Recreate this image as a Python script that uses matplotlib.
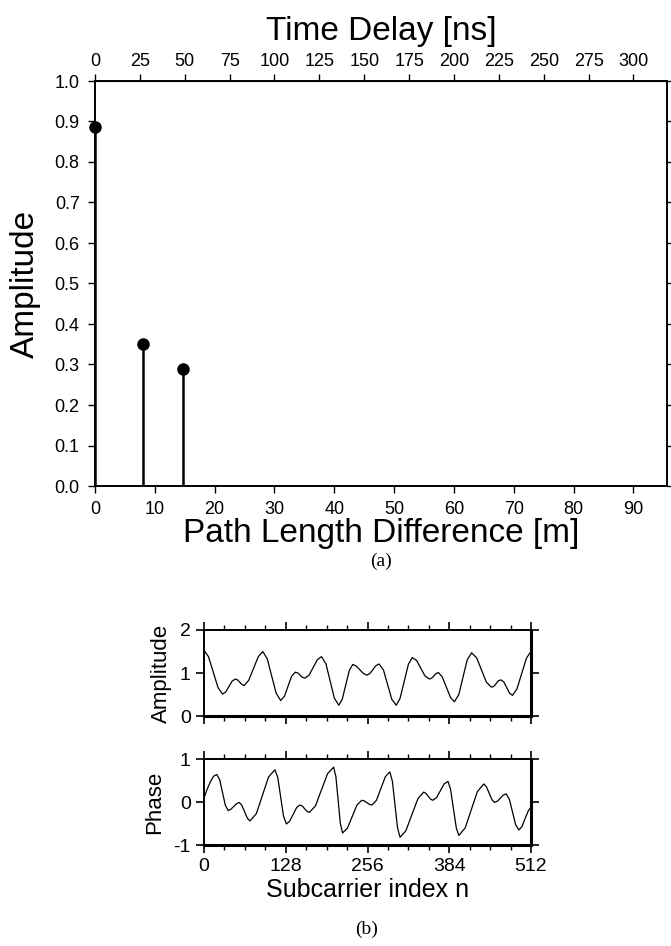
#!/usr/bin/env python3

import numpy as np
import matplotlib
matplotlib.use("Agg")
import matplotlib.pyplot as plt

plt.rcParams["font.family"] = ["Liberation Sans", "DejaVu Sans"]

# (a) impulse response
path_diff_m = [0.0, 8.0, 14.7]
path_amp = [0.886, 0.35, 0.29]
delay_ticks_ns = [0, 25, 50, 75, 100, 125, 150, 175, 200, 225, 250, 275, 300]

# (b) amplitude vs subcarrier
amp_n = [0, 7, 14.5, 22, 29, 34, 39, 44, 49, 52.5, 56, 59.5, 63, 70, 77.5,
         85, 92, 99, 106, 113, 120, 126, 131.5, 137, 143, 147, 150.5, 154,
         158, 164.5, 171, 177.5, 184, 191, 197.5, 204, 211, 216.5, 222,
         227.5, 233, 238.5, 244, 249.5, 255, 260, 264.5, 269, 274, 281,
         287.5, 294, 301, 307, 313.5, 320, 326, 333, 339.5, 346, 353, 356.5,
         360, 363.5, 367, 373, 379.5, 386, 392, 399, 405.5, 412, 419, 427,
         434.5, 442, 450, 454, 457.5, 461, 465, 469.5, 474, 478.5, 483, 490,
         497.5, 505, 512]
amp_val = [1.53, 1.38, 1.02, 0.66, 0.51, 0.56, 0.685, 0.81, 0.86, 0.84,
           0.785, 0.73, 0.71, 0.83, 1.105, 1.38, 1.50, 1.33, 0.93, 0.53, 0.36,
           0.46, 0.69, 0.92, 1.02, 1.00, 0.95, 0.90, 0.88, 0.95, 1.13, 1.31,
           1.38, 1.21, 0.815, 0.42, 0.25, 0.39, 0.725, 1.06, 1.20, 1.16,
           1.075, 0.99, 0.95, 0.99, 1.08, 1.17, 1.21, 1.07, 0.73, 0.39, 0.25,
           0.41, 0.805, 1.20, 1.36, 1.29, 1.11, 0.93, 0.86, 0.88, 0.935, 0.99,
           1.01, 0.91, 0.67, 0.43, 0.33, 0.50, 0.90, 1.30, 1.47, 1.35, 1.07,
           0.79, 0.67, 0.69, 0.755, 0.82, 0.84, 0.79, 0.66, 0.53, 0.48, 0.63,
           0.99, 1.35, 1.50]

# (b) phase vs subcarrier
ph_n = [0, 5, 10, 15, 20, 24.5, 29, 33.5, 38, 42, 46.5, 51, 55, 59, 63.5,
        68, 72, 82, 91.5, 101, 111, 115.5, 120, 124.5, 129, 134, 139.5, 145,
        150, 154, 157.5, 161, 165, 174.5, 184, 193.5, 203, 206.5, 210, 213.5,
        217, 224.5, 232, 239.5, 247, 251, 255, 259, 263, 270, 277, 284, 291,
        295, 299, 303, 307, 316, 325.5, 335, 344, 347.5, 351, 354.5, 358,
        364, 370, 376, 382, 386, 390.5, 395, 399, 409, 418.5, 428, 438, 442,
        446.5, 451, 455, 459.5, 464, 468.5, 473, 478, 483, 488, 493, 498,
        503, 508, 512]
ph_val = [0.09, 0.30, 0.47, 0.60, 0.64, 0.52, 0.22, -0.08, -0.20, -0.17,
          -0.105, -0.04, -0.01, -0.07, -0.225, -0.38, -0.44, -0.27, 0.155,
          0.58, 0.75, 0.57, 0.12, -0.33, -0.51, -0.45, -0.29, -0.13, -0.07,
          -0.095, -0.155, -0.215, -0.24, -0.09, 0.285, 0.66, 0.81, 0.59,
          0.045, -0.50, -0.72, -0.61, -0.34, -0.07, 0.04, 0.025, -0.015,
          -0.055, -0.07, 0.04, 0.315, 0.59, 0.70, 0.48, -0.06, -0.60, -0.82,
          -0.67, -0.295, 0.08, 0.23, 0.20, 0.135, 0.07, 0.04, 0.10, 0.26,
          0.42, 0.48, 0.30, -0.15, -0.60, -0.78, -0.60, -0.18, 0.24, 0.42,
          0.36, 0.205, 0.05, -0.01, 0.02, 0.09, 0.16, 0.19, 0.07, -0.23,
          -0.53, -0.65, -0.57, -0.375, -0.20, -0.12]

W, H = 671, 946
fig = plt.figure(figsize=(W / 100, H / 100), dpi=100)


def box(l, t, r, b):
    return [l / W, 1 - b / H, (r - l) / W, (b - t) / H]


# ---- (a)
ax = fig.add_axes(box(95, 81, 667, 486))
ax.vlines(path_diff_m, 0, path_amp, color="k", lw=1.8)
ax.plot(path_diff_m, path_amp, "o", color="k", ms=8, clip_on=False)
ax.set_xlim(0, 95.6)
ax.set_ylim(0, 1.0)
ax.set_xticks(np.arange(0, 91, 10))
ax.set_yticks(np.arange(0, 1.01, 0.1))
ax.set_yticklabels(["%.1f" % v for v in np.arange(0, 1.01, 0.1)])
ax.tick_params(direction="out", length=5, width=1, labelsize=13,
               right=True, pad=6)
for s in ax.spines.values():
    s.set_linewidth(1.4)
ax.set_xlabel("Path Length Difference [m]", fontsize=24, labelpad=0)
ax.set_ylabel("Amplitude", fontsize=24, labelpad=10)

top = ax.secondary_xaxis("top", functions=(lambda m: m / 0.3,
                                           lambda ns: ns * 0.3))
top.set_xticks(delay_ticks_ns)
top.tick_params(direction="out", length=5, width=1, labelsize=13, pad=3)
top.set_xlabel("Time Delay [ns]", fontsize=24, labelpad=9)

fig.text(381 / W, 1 - 561 / H, "(a)", ha="center", va="center",
         fontsize=14, family="Liberation Serif")

# ---- (b)
axa = fig.add_axes(box(204, 630, 531, 716))
axp = fig.add_axes(box(204, 759, 531, 845))
axa.plot(amp_n, amp_val, color="k", lw=0.9)
axp.plot(ph_n, ph_val, color="k", lw=0.9)

for a, ylo, yhi, lab in [(axa, 0, 2, "Amplitude"), (axp, -1, 1, "Phase")]:
    a.set_xlim(0, 512)
    a.set_ylim(ylo, yhi)
    a.set_yticks([ylo, (ylo + yhi) / 2, yhi])
    a.set_yticklabels(["%d" % ylo, "%d" % ((ylo + yhi) / 2), "%d" % yhi])
    a.set_xticks([0, 128, 256, 384, 512])
    a.set_xticks(np.arange(0, 513, 32), minor=True)
    a.tick_params(which="both", direction="out", top=True, right=True,
                  labelsize=14)
    a.tick_params(which="major", length=6, width=1.2)
    a.tick_params(which="minor", length=3.5, width=1)
    a.spines["left"].set_linewidth(1.4)
    a.spines["top"].set_linewidth(1.4)
    a.spines["right"].set_linewidth(2.2)
    a.spines["bottom"].set_linewidth(2.2)
    a.set_ylabel(lab, fontsize=16, labelpad=6)

axa.tick_params(labelbottom=False)
axp.set_xlabel("Subcarrier index n", fontsize=18, labelpad=2)
fig.text(367 / W, 1 - 929 / H, "(b)", ha="center", va="center",
         fontsize=14, family="Liberation Serif")

fig.savefig("out.png", dpi=100)
